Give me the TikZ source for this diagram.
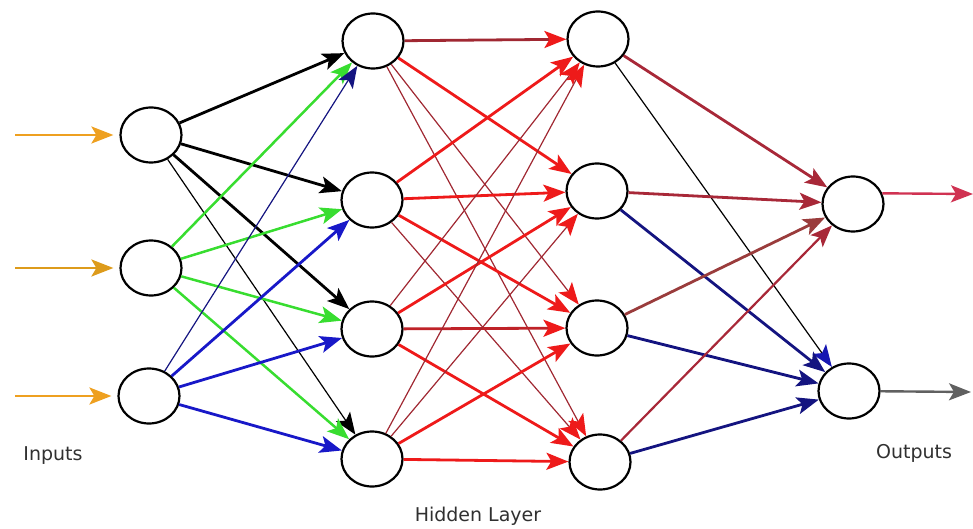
\documentclass[tikz,border=0pt]{standalone}
\usepackage{fontspec}
\setmainfont{DejaVu Sans}
\usetikzlibrary{arrows.meta,shapes.geometric}
\definecolor{inorange}{HTML}{EEA020}
\definecolor{grn}{HTML}{38DD30}
\definecolor{blu}{HTML}{1818C8}
\definecolor{navy}{HTML}{141480}
\definecolor{tred}{HTML}{EE1A1A}
\definecolor{dkred}{HTML}{A02832}
\definecolor{crim}{HTML}{A82838}
\definecolor{brn}{HTML}{9A3C3C}
\definecolor{outcrim}{HTML}{D03252}
\definecolor{outgray}{HTML}{606060}
\definecolor{txt}{HTML}{303030}
\begin{document}
\begin{tikzpicture}[x=1pt,y=-1pt,
  neuron/.style={draw, ellipse, minimum width=61pt, minimum height=55pt, inner sep=0pt, line width=2.2pt},
  tip/.style={-{Stealth[length=22pt,width=17pt,inset=5pt]}},
  redtip/.style={-{Stealth[length=22pt,width=17pt,inset=5pt,color=tred]}},
  navytip/.style={-{Stealth[length=22pt,width=17pt,inset=5pt,color=blu!70!navy]}},
  thk/.style={line width=2.8pt},
  thn/.style={line width=1.2pt},
  lbl/.style={text=txt, font=\fontsize{19}{22}\selectfont, inner sep=0pt}
]
\useasboundingbox (0,0) rectangle (973,529);
% nodes
\node[neuron] (in1) at (151,135) {};
\node[neuron] (in2) at (151,268) {};
\node[neuron] (in3) at (149,396) {};
\node[neuron] (h1) at (373,41) {};
\node[neuron] (h2) at (372,200) {};
\node[neuron] (h3) at (372,329) {};
\node[neuron] (h4) at (372,459) {};
\node[neuron] (g1) at (598,39) {};
\node[neuron] (g2) at (597,191) {};
\node[neuron] (g3) at (597,328) {};
\node[neuron] (g4) at (600,462) {};
\node[neuron] (o1) at (853,204) {};
\node[neuron] (o2) at (849,391) {};
\coordinate (ia1) at (15,135);
\coordinate (ia2) at (15,268);
\coordinate (ia3) at (15,396);
\coordinate (ob1) at (973,194);
\coordinate (ob2) at (971,392);
% input arrows
\draw[tip, thk, inorange, shorten >=6pt] (ia1) -- (in1);
\draw[tip, thk, inorange!85!olive, shorten >=6pt] (ia2) -- (in2);
\draw[tip, thk, inorange, shorten >=6pt] (ia3) -- (in3);
% input -> hidden 1
\draw[tip, thk, black] (in1) -- (h1);
\draw[tip, thk, black] (in1) -- (h2);
\draw[tip, thk, black] (in1) -- (h3);
\draw[tip, thn, black] (in1) -- (h4);
\draw[tip, line width=2.5pt, grn] (in2) -- (h1);
\draw[tip, line width=2.5pt, grn] (in2) -- (h2);
\draw[tip, line width=2.5pt, grn] (in2) -- (h3);
\draw[tip, line width=2.5pt, grn] (in2) -- (h4);
\draw[tip, thn, navy] (in3) -- (h1);
\draw[tip, thk, blu] (in3) -- (h2);
\draw[tip, thk, blu] (in3) -- (h3);
\draw[tip, thk, blu] (in3) -- (h4);
% hidden 1 -> hidden 2
\draw[redtip, thk, dkred] (h1) -- (g1);
\draw[redtip, thk, tred] (h1) -- (g2);
\draw[redtip, thn, dkred] (h1) -- (g3);
\draw[redtip, thn, dkred] (h1) -- (g4);
\draw[redtip, thk, tred] (h2) -- (g1);
\draw[redtip, thk, tred] (h2) -- (g2);
\draw[redtip, thk, tred] (h2) -- (g3);
\draw[redtip, thn, dkred] (h2) -- (g4);
\draw[redtip, thn, dkred] (h3) -- (g1);
\draw[redtip, thk, tred] (h3) -- (g2);
\draw[redtip, thk, dkred!60!tred] (h3) -- (g3);
\draw[redtip, thk, tred] (h3) -- (g4);
\draw[redtip, thn, dkred] (h4) -- (g1);
\draw[redtip, thn, dkred] (h4) -- (g2);
\draw[redtip, thk, tred] (h4) -- (g3);
\draw[redtip, thk, tred] (h4) -- (g4);
% hidden 2 -> outputs
\draw[tip, thk, crim] (g1) -- (o1);
\draw[navytip, thn, black] (g1) -- (o2);
\draw[tip, thk, crim] (g2) -- (o1);
\draw[tip, thk, navy] (g2) -- (o2);
\draw[tip, thk, brn] (g3) -- (o1);
\draw[tip, thk, navy] (g3) -- (o2);
\draw[tip, line width=2.2pt, crim] (g4) -- (o1);
\draw[tip, thk, navy] (g4) -- (o2);
% output arrows
\draw[tip, line width=2.4pt, outcrim] (o1.20) -- (ob1);
\draw[tip, line width=2.4pt, outgray] (o2) -- (ob2);
% labels
\node[lbl] (lin) at (53,456) {Inputs};
\node[lbl] (lhid) at (478,516) {Hidden Layer};
\node[lbl] (lout) at (914,453) {Outputs};
\end{tikzpicture}
\end{document}
